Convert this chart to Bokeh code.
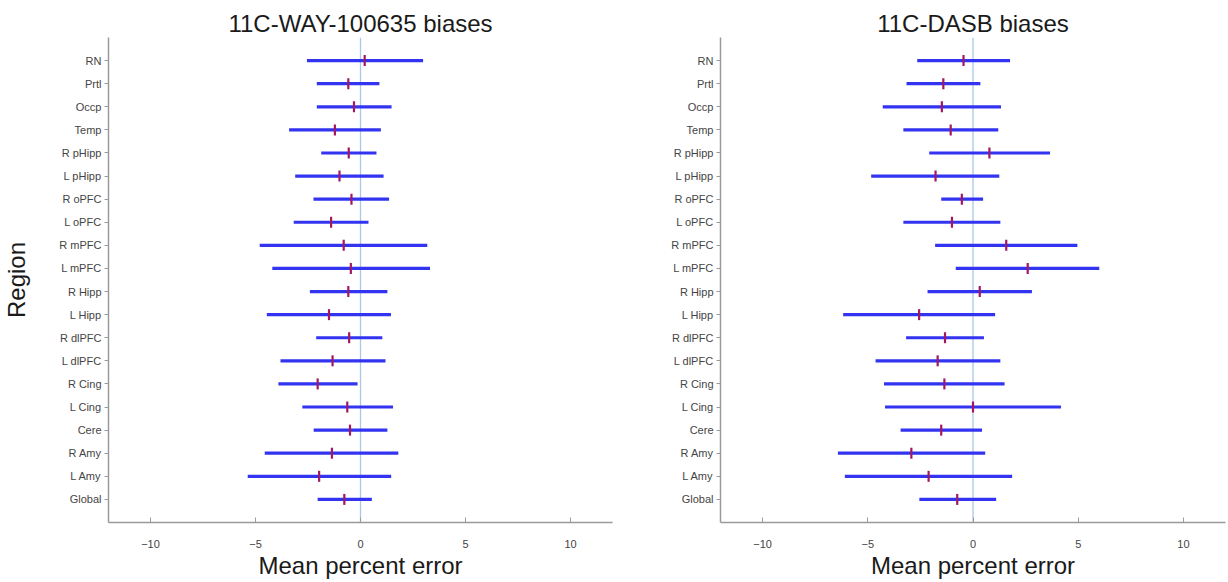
from bokeh.plotting import figure
from bokeh.layouts import row
from bokeh.models import FactorRange, Span, FixedTicker, Range1d
from bokeh.embed import file_html
from bokeh.resources import INLINE

regions = ["RN", "Prtl", "Occp", "Temp", "R pHipp", "L pHipp", "R oPFC", "L oPFC",
           "R mPFC", "L mPFC", "R Hipp", "L Hipp", "R dlPFC", "L dlPFC", "R Cing",
           "L Cing", "Cere", "R Amy", "L Amy", "Global"]

way_mean = [0.2, -0.58, -0.31, -1.22, -0.56, -1.0, -0.43, -1.4, -0.8, -0.46,
            -0.58, -1.5, -0.54, -1.33, -2.04, -0.63, -0.5, -1.36, -1.97, -0.77]
way_low = [-2.55, -2.08, -2.08, -3.4, -1.87, -3.11, -2.24, -3.18, -4.8, -4.2,
           -2.41, -4.46, -2.11, -3.81, -3.91, -2.77, -2.23, -4.56, -5.37, -2.04]
way_high = [2.98, 0.9, 1.48, 0.97, 0.76, 1.1, 1.36, 0.38, 3.18, 3.31,
            1.28, 1.45, 1.04, 1.19, -0.14, 1.55, 1.28, 1.8, 1.46, 0.54]

dasb_mean = [-0.45, -1.41, -1.48, -1.06, 0.78, -1.78, -0.53, -1.0, 1.58, 2.6,
             0.32, -2.56, -1.33, -1.68, -1.36, 0.0, -1.51, -2.93, -2.11, -0.75]
dasb_low = [-2.65, -3.16, -4.29, -3.31, -2.08, -4.84, -1.51, -3.31, -1.8, -0.82,
            -2.16, -6.17, -3.18, -4.63, -4.23, -4.18, -3.44, -6.42, -6.09, -2.55]
dasb_high = [1.76, 0.35, 1.33, 1.2, 3.66, 1.25, 0.48, 1.3, 4.96, 6.0,
             2.8, 1.05, 0.52, 1.3, 1.5, 4.18, 0.43, 0.58, 1.86, 1.1]

x_ticks = [-10, -5, 0, 5, 10]

FONT = "Liberation Sans"


def make_panel(title, means, lows, highs, width, border_left, border_right, ylabel):
    p = figure(width=width, height=582, output_backend="svg", toolbar_location=None,
               y_range=FactorRange(factors=list(reversed(regions)), range_padding=0.5,
                                   range_padding_units="absolute"),
               x_range=Range1d(-12, 12),
               min_border_left=border_left, min_border_right=border_right,
               min_border_top=37, min_border_bottom=60)
    p.title.text = title
    p.title.align = "center"
    p.title.text_font = FONT
    p.title.text_font_size = "24px"
    p.title.text_font_style = "normal"
    p.title.text_color = "#1a1a1a"
    p.title.standoff = 2
    p.outline_line_color = None
    p.grid.visible = False

    zero = Span(location=0, dimension="height", line_color="#a8c8ec", line_width=1.3,
                level="underlay")
    p.add_layout(zero)

    p.segment(x0=lows, x1=highs, y0=regions, y1=regions, line_color="#3333f2",
              line_width=3.2)
    p.rect(x=means, y=regions, width=2.2, height=11, width_units="screen",
           height_units="screen", fill_color="#a01862", line_color=None)

    xa = p.xaxis[0]
    xa.ticker = FixedTicker(ticks=x_ticks)
    xa.minor_tick_line_color = None
    xa.major_tick_in = 5
    xa.major_tick_out = 0
    xa.axis_line_color = "#9a9a9a"
    xa.axis_line_width = 1.5
    xa.major_tick_line_color = "#9a9a9a"
    xa.major_label_text_font = FONT
    xa.major_label_text_font_size = "11px"
    xa.major_label_text_color = "#444444"
    xa.major_label_standoff = 17
    xa.axis_label = "Mean percent error"
    xa.axis_label_text_font = FONT
    xa.axis_label_text_font_size = "24px"
    xa.axis_label_text_font_style = "normal"
    xa.axis_label_text_color = "#1a1a1a"
    xa.axis_label_standoff = 1

    ya = p.yaxis[0]
    ya.major_tick_in = 0
    ya.major_tick_out = 4
    ya.axis_line_color = "#9a9a9a"
    ya.axis_line_width = 1.5
    ya.major_tick_line_color = "#9a9a9a"
    ya.major_label_text_font = FONT
    ya.major_label_text_font_size = "11px"
    ya.major_label_text_color = "#444444"
    ya.major_label_standoff = 3
    if ylabel:
        ya.axis_label = ylabel
        ya.axis_label_text_font = FONT
        ya.axis_label_text_font_size = "24px"
        ya.axis_label_text_font_style = "normal"
        ya.axis_label_text_color = "#1a1a1a"
        ya.axis_label_standoff = 26
    return p


left = make_panel("11C-WAY-100635 biases", way_mean, way_low, way_high,
                  width=652, border_left=108, border_right=40, ylabel="Region")
right = make_panel("11C-DASB biases", dasb_mean, dasb_low, dasb_high,
                   width=576, border_left=68, border_right=3, ylabel=None)

layout = row(left, right)
open("out.html", "w").write(file_html(layout, INLINE))
